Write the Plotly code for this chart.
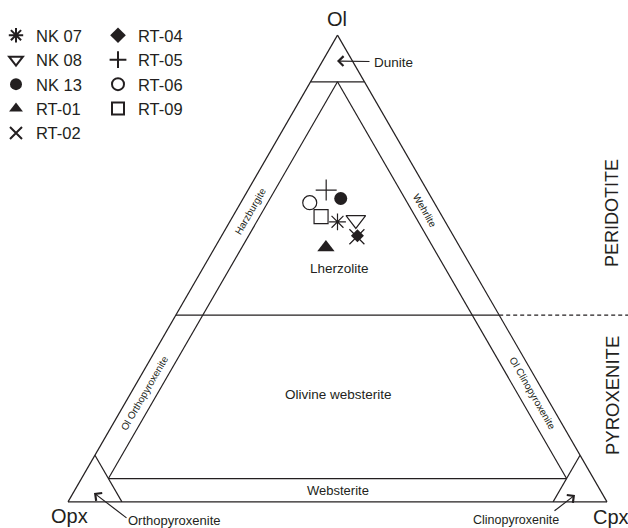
import plotly.graph_objects as go

W, H = 628, 528
FONT = "Liberation Sans, Arial, Helvetica, sans-serif"
INK = "#231f20"

# ---- sample data (Ol, Opx, Cpx in %) ----
samples = ["NK 07", "NK 08", "NK 13", "RT-01", "RT-02", "RT-04", "RT-05", "RT-06", "RT-09"]
ol  = [60.0, 60.4, 65.0, 54.5, 56.8, 57.0, 66.8, 64.1, 61.1]
opx = [20.0, 16.4, 16.9, 24.9, 18.0, 17.8, 18.7, 23.1, 22.5]
cpx = [20.0, 23.2, 18.1, 20.6, 25.2, 25.2, 14.5, 12.8, 16.4]
symbols = ["asterisk-open", "triangle-down-open", "circle", "triangle-up", "x-thin-open",
           "diamond", "cross-thin-open", "circle-open", "square-open"]
sizes = [14, 17, 13, 15, 15, 10, 15, 14, 14]
legend_ids = ["legend"] * 5 + ["legend2"] * 4

# ---- classification field boundaries (Ol, Opx, Cpx) ----
boundary_ol  = [[90, 90], [40, 40], [90, 5], [90, 5], [5, 5], [10, 0], [10, 0]]
boundary_opx = [[10, 0], [60, 0], [5, 90], [5, 5], [90, 5], [90, 90], [0, 10]]
boundary_cpx = [[0, 10], [0, 60], [5, 5], [5, 90], [5, 90], [0, 10], [90, 90]]

# triangle placement (pixels)
TX0, TX1, TY_TOP, TY_BOT = 68, 607, 35, 502


def px(x, y):
    return x / W, 1 - y / H


def tern_to_px(a, b, c):
    s = a + b + c
    a, b, c = a / s, b / s, c / s
    x = TX0 + (TX1 - TX0) * (c + a / 2)
    y = TY_BOT - (TY_BOT - TY_TOP) * a
    return x, y


fig = go.Figure()

for a_, b_, c_ in zip(boundary_ol, boundary_opx, boundary_cpx):
    fig.add_trace(go.Scatterternary(
        a=a_, b=b_, c=c_, mode="lines",
        line=dict(color=INK, width=1.2),
        showlegend=False, hoverinfo="skip"))

for i, name in enumerate(samples):
    sym = symbols[i]
    is_open = sym.endswith("-open")
    fig.add_trace(go.Scatterternary(
        a=[ol[i]], b=[opx[i]], c=[cpx[i]], mode="markers", name=name,
        legend=legend_ids[i],
        marker=dict(symbol=sym, size=sizes[i], color=INK,
                    line=dict(color=INK, width=1.2 if is_open else 0))))

axis_style = dict(showline=True, linecolor=INK, linewidth=1.2, showgrid=False,
                  showticklabels=False, ticks="", title=dict(text=""), min=0)

fig.update_layout(
    width=W, height=H,
    margin=dict(l=0, r=0, t=0, b=0, autoexpand=False),
    paper_bgcolor="white",
    font=dict(family=FONT, color=INK),
    ternary=dict(
        sum=100,
        domain=dict(x=[TX0 / W, TX1 / W], y=[1 - TY_BOT / H, 1 - TY_TOP / H]),
        bgcolor="white",
        aaxis=axis_style, baxis=axis_style, caxis=axis_style),
    legend=dict(x=-4 / W, y=1 - 18 / H, xanchor="left", yanchor="top",
                font=dict(size=16.5, family=FONT, color=INK),
                itemsizing="constant", bgcolor="rgba(0,0,0,0)"),
    legend2=dict(x=98 / W, y=1 - 18 / H, xanchor="left", yanchor="top",
                 font=dict(size=16.5, family=FONT, color=INK),
                 itemsizing="constant", bgcolor="rgba(0,0,0,0)"),
)

anns = []


def label(text, x, y, size, angle=0):
    X, Y = px(x, y)
    anns.append(dict(text=text, x=X, y=Y, xref="paper", yref="paper", showarrow=False,
                     textangle=angle, xanchor="center", yanchor="middle",
                     font=dict(size=size, family=FONT, color=INK)))


def arrow(tip, tail):
    X, Y = px(*tip)
    anns.append(dict(text="", x=X, y=Y, xref="paper", yref="paper",
                     ax=tail[0] - tip[0], ay=tail[1] - tip[1],
                     showarrow=True, arrowhead=4, arrowsize=1.6, arrowwidth=1.2,
                     arrowcolor=INK, standoff=0, startstandoff=0))


label("Ol", 337, 18.5, 20)
label("Opx", 69, 516, 20)
label("Cpx", 611, 517, 20)
label("Dunite", 393, 62, 13.5)
label("Harzburgite", 250, 211, 10, -60)
label("Wehrlite", 425, 210, 10, 60)
label("Lherzolite", 339, 268, 13.5)
label("Ol Orthopyroxenite", 144, 393, 10, -60)
label("Ol Clinopyroxenite", 533, 393, 10, 60)
label("Olivine websterite", 338, 394, 13.5)
label("Websterite", 338, 490, 13)
label("Orthopyroxenite", 174, 520, 13)
label("Clinopyroxenite", 516, 520, 12.5)
label("PERIDOTITE", 612, 213, 18, -90)
label("PYROXENITE", 612, 396, 18.5, -90)

arrow((337, 61), (371, 61.5))
arrow((94, 493), (128, 519))
arrow((575, 495), (553, 512))

# dashed peridotite / pyroxenite divider extending from the Ol = 40 line
dx0, dy0 = tern_to_px(40, 0, 60)
fig.add_shape(type="line", xref="paper", yref="paper",
              x0=dx0 / W, y0=1 - dy0 / H, x1=1, y1=1 - dy0 / H,
              line=dict(color=INK, width=1.2, dash="4px,3px"))

fig.update_layout(annotations=anns)
fig.write_html("out.html", config={"displayModeBar": False},
               post_script="document.body.style.margin='0';document.body.style.overflow='hidden';")
